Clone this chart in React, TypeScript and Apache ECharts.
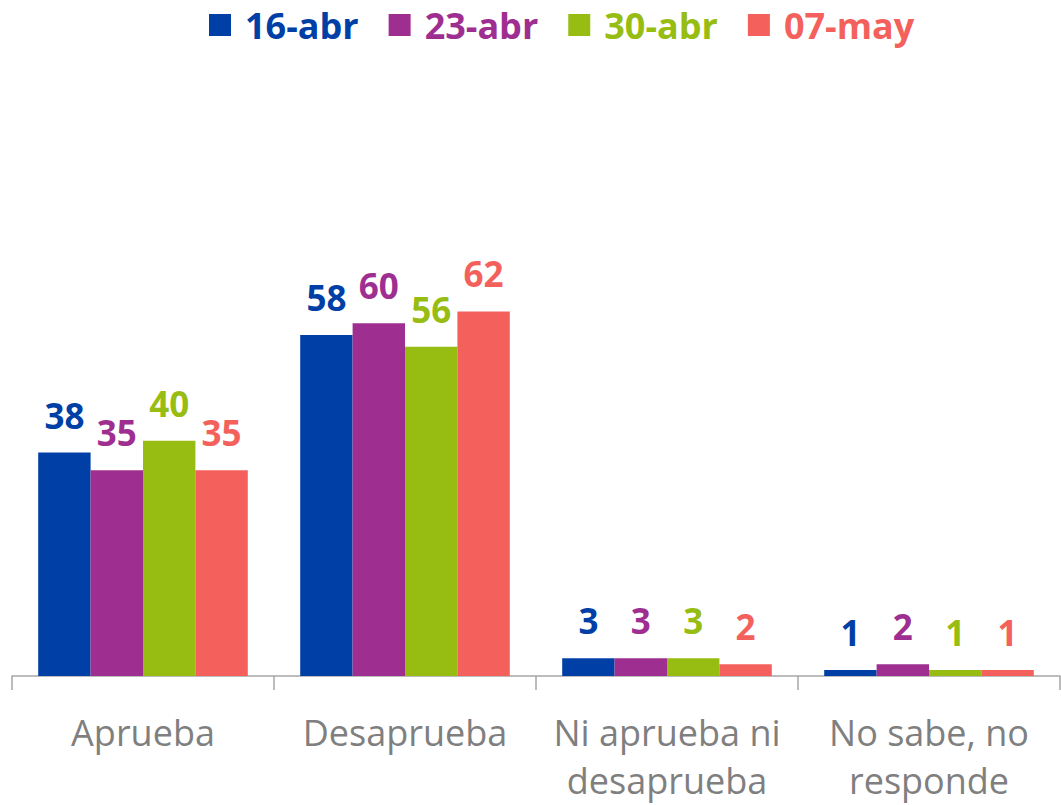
import React, { useEffect, useRef } from "react";
import * as echarts from "echarts";

const categories = ["Aprueba", "Desaprueba", "Ni aprueba ni\ndesaprueba", "No sabe, no\nresponde"];
const seriesNames = ["16-abr", "23-abr", "30-abr", "07-may"];
const s16abr = [38, 58, 3, 1];
const s23abr = [35, 60, 3, 2];
const s30abr = [40, 56, 3, 1];
const s07may = [35, 62, 2, 1];
const colors = ["#003FA6", "#9E2F91", "#97BC12", "#F4615C"];

const FONT = "'Open Sans', sans-serif";

export default function App() {
  const ref = useRef<HTMLDivElement>(null);
  useEffect(() => {
    document.body.style.margin = "0";
    const chart = echarts.init(ref.current!, null, { renderer: "svg" });
    const values = [s16abr, s23abr, s30abr, s07may];
    chart.setOption({
      animation: false,
      legend: {
        top: 2,
        left: 204,
        itemWidth: 22,
        itemHeight: 22,
        itemGap: 30,
        icon: "rect",
        data: seriesNames.map((name, i) => ({
          name,
          textStyle: { color: colors[i] },
        })),
        textStyle: {
          fontFamily: FONT,
          fontSize: 36,
          fontWeight: "bold",
          padding: [0, 0, 0, 9],
        },
      },
      grid: { left: 12, right: 1, top: 88, bottom: 129 },
      xAxis: {
        type: "category",
        data: categories,
        axisLine: { lineStyle: { color: "#A6A6A6", width: 1.5 } },
        axisTick: { show: true, length: 14, lineStyle: { color: "#A6A6A6", width: 1.5 } },
        axisLabel: {
          interval: 0,
          margin: 32,
          fontFamily: FONT,
          fontSize: 36,
          lineHeight: 48,
          color: "#7F7F7F",
          verticalAlign: "top",
        },
      },
      yAxis: {
        type: "value",
        min: 0,
        max: 100,
        show: false,
        splitLine: { show: false },
      },
      series: seriesNames.map((name, i) => ({
        name,
        type: "bar",
        data: values[i],
        barGap: "0%",
        barCategoryGap: "20%",
        itemStyle: { color: colors[i] },
        label: {
          show: true,
          position: "top",
          distance: 20,
          fontFamily: FONT,
          fontSize: 35,
          fontWeight: "bold",
          color: colors[i],
        },
      })),
    });
    return () => chart.dispose();
  }, []);
  return <div ref={ref} style={{ width: 1061, height: 805 }} />;
}
